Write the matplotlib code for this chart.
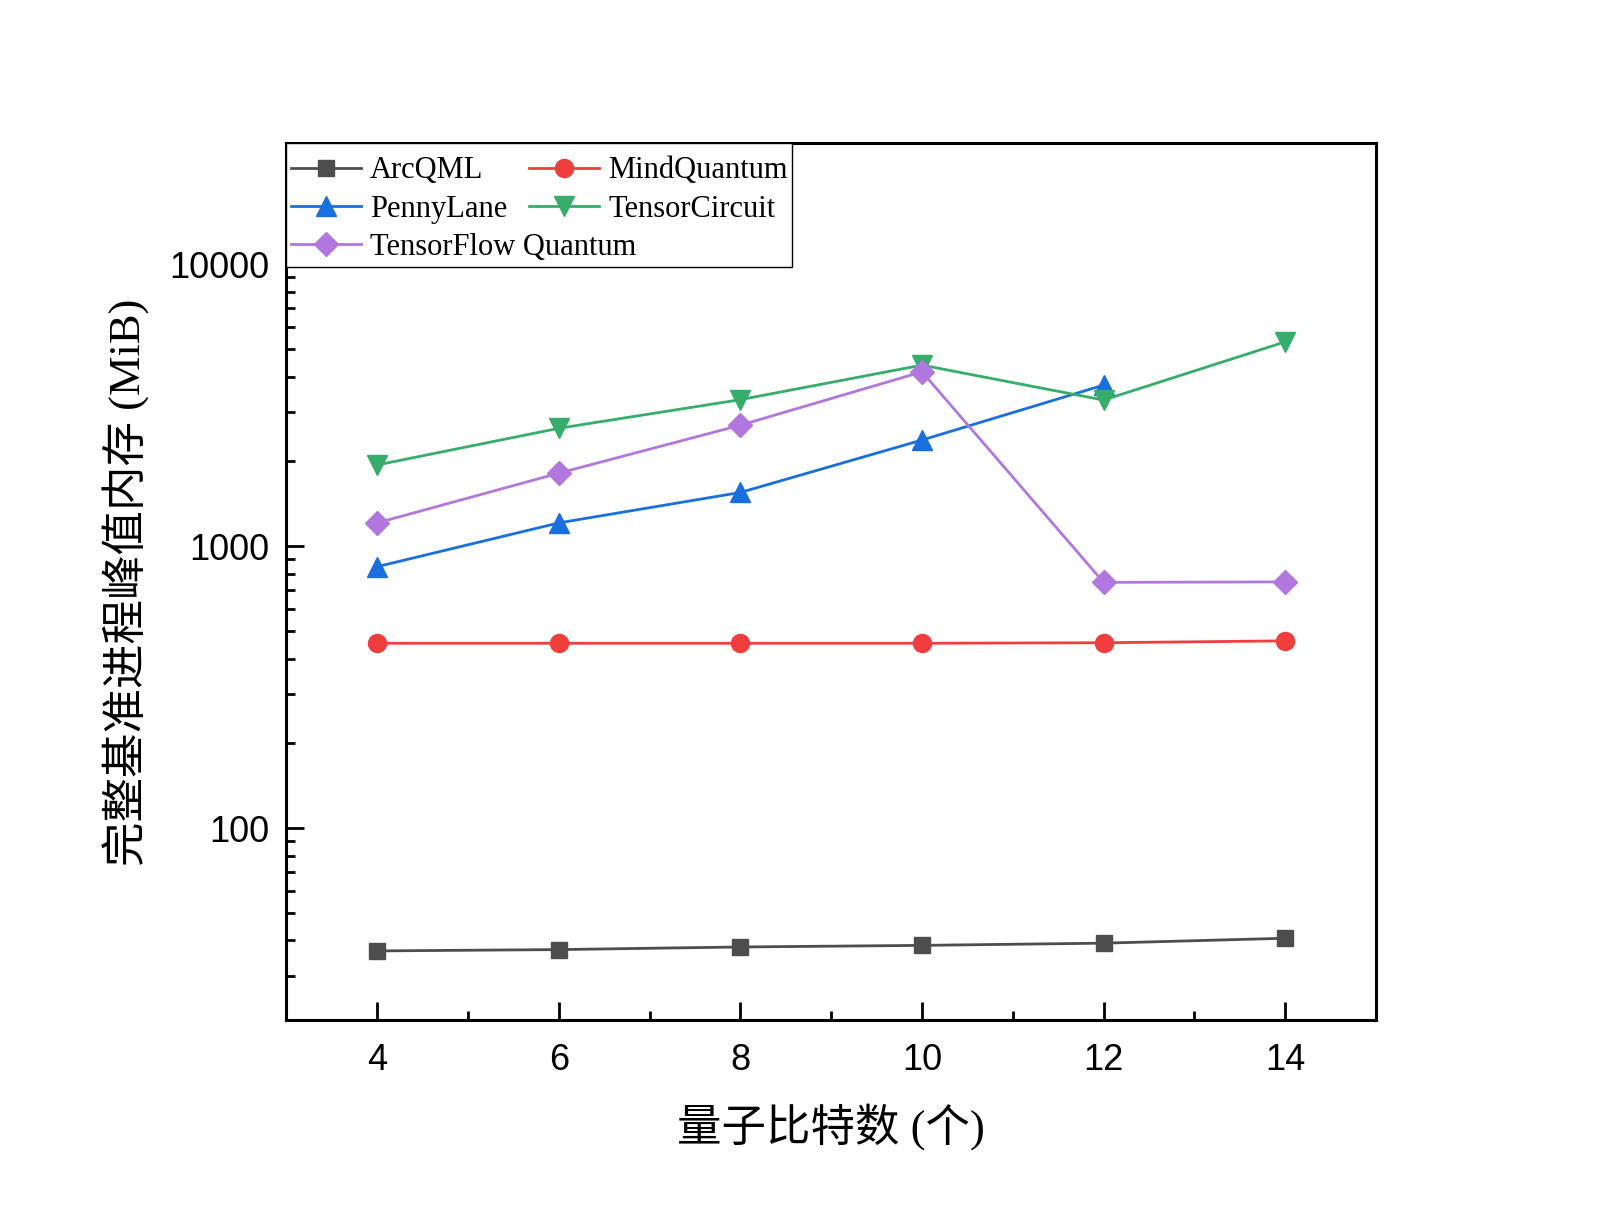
import matplotlib
matplotlib.use("Agg")
import matplotlib.pyplot as plt
from matplotlib.patches import Rectangle
from matplotlib.ticker import LogLocator, MultipleLocator, NullFormatter, FixedLocator

# qubit counts
qubits = [4, 6, 8, 10, 12, 14]
qubits_pl = [4, 6, 8, 10, 12]

# peak memory (MiB)
arcqml = [36.7, 37.1, 37.9, 38.4, 39.1, 40.7]
mindquantum = [453, 453, 453, 453, 455, 462]
pennylane = [847, 1211, 1553, 2383, 3732]
tensorcircuit = [1944, 2623, 3314, 4395, 3303, 5315]
tfq = [1211, 1818, 2690, 4160, 745, 748]

cjk = ['Liberation Serif', 'Noto Sans CJK SC']

fig = plt.figure(figsize=(16, 12.25), dpi=100)
ax = fig.add_axes([0.179, 0.167, 0.681, 0.716])

l1, = ax.plot(qubits, arcqml, '-s', color='#4d4d4d', lw=2, ms=12, label='ArcQML')
l2, = ax.plot(qubits, mindquantum, '-o', color='#ef3e3e', lw=2, ms=13, label='MindQuantum')
l3, = ax.plot(qubits_pl, pennylane, '-^', color='#1a6fdf', lw=2, ms=14, label='PennyLane')
l4, = ax.plot(qubits, tensorcircuit, '-v', color='#37ad6b', lw=2, ms=14, label='TensorCircuit')
l5, = ax.plot(qubits, tfq, '-D', color='#b177de', lw=2, ms=12, label='TensorFlow Quantum')

ax.set_yscale('log')
ax.set_xlim(3, 15)
ax.set_ylim(20.8, 26900)

ax.xaxis.set_major_locator(FixedLocator(qubits))
ax.xaxis.set_minor_locator(MultipleLocator(1))
ax.yaxis.set_major_locator(FixedLocator([100, 1000, 10000]))
ax.yaxis.set_minor_locator(LogLocator(base=10, subs=range(2, 10)))
ax.yaxis.set_minor_formatter(NullFormatter())
ax.set_yticklabels(['100', '1000', '10000'])

ax.tick_params(which='major', direction='in', length=13, width=2, labelsize=26,
               top=False, right=False)
ax.tick_params(axis='x', which='major', pad=16)
ax.tick_params(axis='y', which='major', pad=12)
ax.tick_params(which='minor', direction='in', length=6.5, width=2, top=False, right=False)
for lbl in ax.get_xticklabels() + ax.get_yticklabels():
    lbl.set_family('Liberation Sans')

for sp in ax.spines.values():
    sp.set_linewidth(2.2)

ax.set_xlabel('量子比特数 (个)', fontsize=32, family=cjk, labelpad=18)
ax.set_ylabel('完整基准进程峰值内存 (MiB)', fontsize=32, family=cjk, labelpad=14)

# legend: two rows of two, then TensorFlow Quantum alone, inside one frame
leg_kw = dict(frameon=False, handlelength=2.3, handletextpad=0.3,
              borderpad=0, borderaxespad=0, labelspacing=0.3,
              prop={'family': 'Liberation Serif', 'size': 22})
leg1 = ax.legend([l1, l3, l2, l4], ['ArcQML', 'PennyLane', 'MindQuantum', 'TensorCircuit'],
                 ncol=2, columnspacing=0.7, loc='upper left',
                 bbox_to_anchor=(0.004, 0.985), **leg_kw)
ax.add_artist(leg1)
leg2 = ax.legend([l5], ['TensorFlow Quantum'], loc='upper left',
                 bbox_to_anchor=(0.004, 0.898), **leg_kw)
ax.add_patch(Rectangle((0, 0.859), 0.464, 0.141, transform=ax.transAxes,
                       facecolor='white', edgecolor='black', lw=1.0, zorder=4.5,
                       clip_on=False))

fig.savefig('out.png', dpi=100)
